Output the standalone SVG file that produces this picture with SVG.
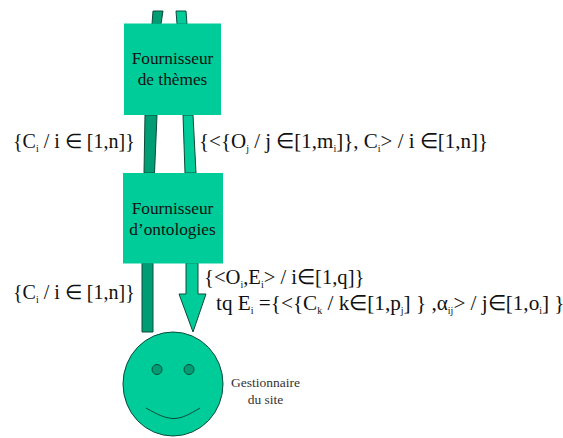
<svg xmlns="http://www.w3.org/2000/svg" width="563" height="438" viewBox="0 0 563 438">
<style>
text{font-family:"Liberation Serif","Times New Roman",serif;fill:#111}
.m{font-size:20px}
.w{font-size:21px}
.x{font-size:21.200px}
.s{font-size:10px}
.n{font-size:17.300px;text-anchor:middle}
.g{font-size:13.500px;text-anchor:middle;fill:#333}
.a{fill:#00cc99;stroke:#0a4a3a;stroke-width:1}
.d{fill:#009d74;stroke:#0a4a3a;stroke-width:1}
.b{fill:#00cc99;stroke:none}
</style>
<rect width="563" height="438" fill="#fff"/>
<g id="connectors">
<path class="d" d="M153 11H163L161 24H152Z"/>
<path class="a" d="M176 11H186L187 24H177Z"/>
<path class="d" d="M145 115H157L154.500 173H144Z"/>
<path class="a" d="M183 115H193L196 173H185Z"/>
<path class="d" d="M142 263H153V332H142Z"/>
<path class="a" d="M186 263H198V294H206L193 332L179 294H186Z"/>
</g>
<g id="fournisseur-themes">
<rect class="b" x="124" y="23.500" width="97" height="91.500"/>
<text class="n" x="172.500" y="64">Fournisseur</text>
<text class="n" x="172.500" y="85">de thèmes</text>
</g>
<g id="fournisseur-ontologies">
<rect class="b" x="123" y="173" width="100" height="90.500"/>
<text class="n" x="172.500" y="214">Fournisseur</text>
<text class="n" x="172.500" y="235">d’ontologies</text>
</g>
<g id="gestionnaire">
<ellipse class="a" cx="173" cy="384" rx="50" ry="52"/>
<circle class="d" cx="157" cy="369.500" r="5"/>
<circle class="d" cx="189" cy="369.500" r="5"/>
<path d="M146 408C158 415 166 418.500 174 418.500C182 418.500 190 414 200 408" fill="none" stroke="#0a4a3a" stroke-width="1"/>
<text class="g" x="265.500" y="387">Gestionnaire</text>
<text class="g" x="265.500" y="404">du site</text>
</g>
<g id="labels">
<text class="m" x="13" y="148">{C<tspan class="s" dy="4">i</tspan><tspan dy="-4"> / i ∈ [1,n]}</tspan></text>
<text class="w" x="199" y="148">{&lt;{O<tspan class="s" dy="4">j</tspan><tspan dy="-4"> / j ∈[1,m</tspan><tspan class="s" dy="4">i</tspan><tspan dy="-4">]}, C</tspan><tspan class="s" dy="4">i</tspan><tspan dy="-4">&gt; / i ∈[1,n]}</tspan></text>
<text class="m" x="13" y="299">{C<tspan class="s" dy="4">i</tspan><tspan dy="-4"> / i ∈ [1,n]}</tspan></text>
<text class="m" x="204" y="284" style="font-size:20.600px">{&lt;O<tspan class="s" dy="4">i</tspan><tspan dy="-4">,E</tspan><tspan class="s" dy="4">i</tspan><tspan dy="-4">&gt; / i∈[1,q]}</tspan></text>
<text class="x" x="216" y="310">tq E<tspan class="s" dy="4">i</tspan><tspan dy="-4"> ={&lt;{C</tspan><tspan class="s" dy="4">k</tspan><tspan dy="-4"> / k∈[1,p</tspan><tspan class="s" dy="4">j</tspan><tspan dy="-4">] } ,α</tspan><tspan class="s" dy="4">ij</tspan><tspan dy="-4">&gt; / j∈[1,o</tspan><tspan class="s" dy="4">i</tspan><tspan dy="-4">] }</tspan></text>
</g>
</svg>
